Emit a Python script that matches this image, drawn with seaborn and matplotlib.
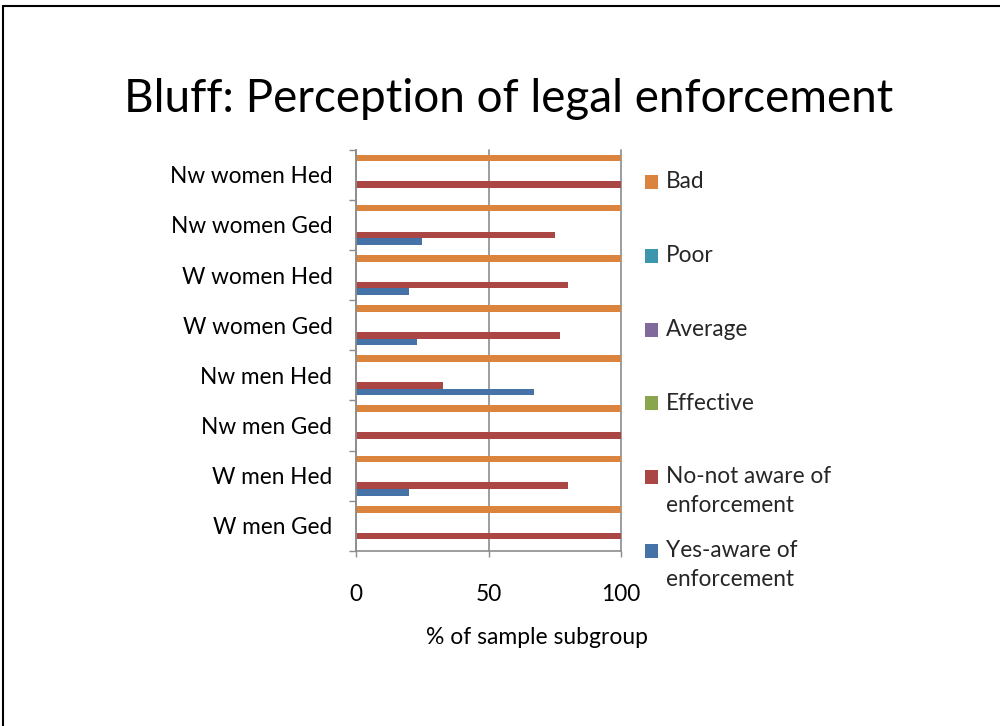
import matplotlib
matplotlib.use("Agg")
import matplotlib.pyplot as plt
import seaborn as sns
import pandas as pd
from matplotlib.lines import Line2D
from matplotlib.patches import Rectangle
from matplotlib.legend_handler import HandlerPatch

categories = ["Nw women Hed", "Nw women Ged", "W women Hed", "W women Ged",
              "Nw men Hed", "Nw men Ged", "W men Hed", "W men Ged"]
series = ["Bad", "Poor", "Average", "Effective",
          "No-not aware of\nenforcement", "Yes-aware of\nenforcement"]
bad = [100, 100, 100, 100, 100, 100, 100, 100]
poor = [0, 0, 0, 0, 0, 0, 0, 0]
average = [0, 0, 0, 0, 0, 0, 0, 0]
effective = [0, 0, 0, 0, 0, 0, 0, 0]
no_aware = [100, 75, 80, 77, 33, 100, 80, 100]
yes_aware = [0, 25, 20, 23, 67, 0, 20, 0]
colors = ["#DB843D", "#3D96AE", "#80699B", "#89A54E", "#AA4643", "#4572A7"]
xticks = [0, 50, 100]

sns.set_style("white")
plt.rcParams["font.family"] = ["Lato", "DejaVu Sans"]

rows = []
for s, vals in zip(series, [bad, poor, average, effective, no_aware, yes_aware]):
    for c, v in zip(categories, vals):
        rows.append({"category": c, "series": s, "value": v})
df = pd.DataFrame(rows)

fig = plt.figure(figsize=(10, 7.26), dpi=100)
ax = fig.add_axes([0.356, 0.241, 0.265, 0.553])

sns.barplot(data=df, y="category", x="value", hue="series", order=categories,
            hue_order=series, palette=colors, orient="h", width=0.8, gap=0,
            saturation=1, linewidth=0, ax=ax, legend=True)

fs = 16.3
gray = "#8C8C8C"
ax.set_xlim(0, 100)
ax.set_ylim(7.5, -0.5)
ax.set_xticks(xticks)
ax.set_xticklabels([str(t) for t in xticks])
ax.set_yticks(range(len(categories)))
ax.set_yticklabels(categories)
ax.set_yticks([i - 0.5 for i in range(len(categories) + 1)], minor=True)
ax.tick_params(axis="y", which="major", length=0, pad=17, labelsize=fs, labelcolor="black")
ax.tick_params(axis="y", which="minor", left=True, length=5, width=1, color=gray)
ax.tick_params(axis="x", which="major", bottom=True, length=4.5, width=1, color=gray,
               pad=19, labelsize=fs, labelcolor="black")
ax.xaxis.grid(True, color=gray, linewidth=1.2)
ax.yaxis.grid(False)
for gl in ax.get_xgridlines():
    gl.set_clip_on(False)
for side in ["top", "right"]:
    ax.spines[side].set_visible(False)
for side in ["left", "bottom"]:
    ax.spines[side].set_color(gray)
    ax.spines[side].set_linewidth(1.2)
ax.set_ylabel("")
ax.set_xlabel("% of sample subgroup", fontsize=16.5, color="black", va="center")
ax.xaxis.set_label_coords((537 - 356) / 265, (551 - 637) / 401)

# legend: every entry occupies two text lines, marker aligned with the first line
line_shift_pt = 14.5 * 72 / 100


def first_line_patch(legend, orig_handle, xdescent, ydescent, width, height, fontsize):
    return Rectangle((-xdescent, -ydescent + line_shift_pt), width, height)


handles, labels = ax.get_legend_handles_labels()
ax.legend_.remove()
labels = [lab if "\n" in lab else lab + "\n" for lab in labels]
leg = fig.legend(handles, labels, loc="upper left", bbox_to_anchor=(0.645, 1 - 171 / 726),
                 frameon=False, borderpad=0, borderaxespad=0, fontsize=fs,
                 handlelength=0.58, handleheight=0.58, handletextpad=0.35,
                 labelspacing=1.07,
                 handler_map={Rectangle: HandlerPatch(patch_func=first_line_patch)})
for t in leg.get_texts():
    t.set_linespacing(1.45)

fig.text(0.509, 1 - 99 / 726, "Bluff: Perception of legal enforcement",
         ha="center", va="center", fontsize=33, color="black")

fig.add_artist(Line2D([0.003, 0.003], [0, 0.992], transform=fig.transFigure,
                      color="black", linewidth=1.5))
fig.add_artist(Line2D([0.003, 1.0], [0.992, 0.992], transform=fig.transFigure,
                      color="black", linewidth=1.5))

fig.savefig("out.png", dpi=100)
